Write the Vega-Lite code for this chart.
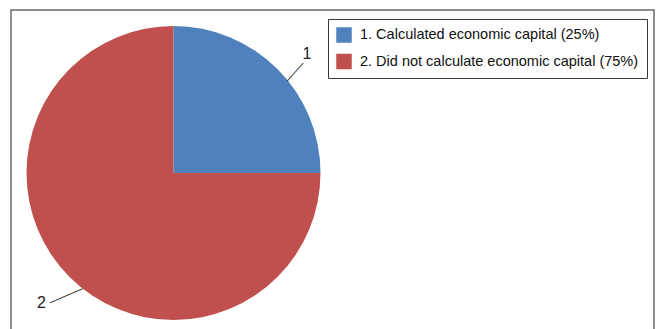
{
  "$schema": "https://vega.github.io/schema/vega-lite/v6.json",
  "width": 643,
  "height": 325,
  "autosize": {"type": "none"},
  "padding": {"left": 11, "top": 10, "right": 3, "bottom": 0},
  "background": "white",
  "config": {
    "view": {"stroke": "#6f6f6f", "strokeWidth": 1.5},
    "font": "Liberation Sans"
  },
  "data": {
    "values": [
      {"category": "1. Calculated economic capital (25%)", "label": "1", "value": 25},
      {"category": "2. Did not calculate economic capital (75%)", "label": "2", "value": 75}
    ]
  },
  "layer": [
    {
      "data": {"values": [{"frame": "chart area"}]},
      "mark": {"type": "rect", "fill": "white", "fillOpacity": 0, "stroke": "#6a6a6a", "strokeWidth": 1.5},
      "encoding": {}
    },
    {
      "mark": {"type": "arc", "x": 162.5, "y": 163, "outerRadius": 147},
      "encoding": {
        "theta": {"field": "value", "type": "quantitative", "stack": true},
        "color": {
          "field": "category",
          "type": "nominal",
          "scale": {"range": ["#4F81BD", "#C0504D"]},
          "legend": {
            "title": null,
            "orient": "none",
            "legendX": 317,
            "legendY": 9,
            "symbolType": "square",
            "symbolSize": 240,
            "symbolStrokeWidth": 0,
            "labelFontSize": 14.5,
            "labelFont": "Liberation Sans",
            "labelColor": "#111111",
            "labelOffset": 8,
            "rowPadding": 10.5,
            "padding": 8,
            "strokeColor": "#3a3a3a",
            "fillColor": "white",
            "labelLimit": 0
          }
        }
      }
    },
    {
      "mark": {"type": "text", "x": 162.5, "y": 163, "radius": 179, "thetaOffset": 0.056, "fontSize": 16, "color": "#222222", "align": "center", "baseline": "middle"},
      "encoding": {
        "theta": {"field": "value", "type": "quantitative", "stack": true},
        "text": {"condition": {"test": "datum.label === '1'", "field": "label"}, "value": ""}
      }
    },
    {
      "mark": {"type": "text", "x": 162.5, "y": 163, "radius": 185, "thetaOffset": 0.01, "fontSize": 16, "color": "#222222", "align": "center", "baseline": "middle"},
      "encoding": {
        "theta": {"field": "value", "type": "quantitative", "stack": true},
        "text": {"condition": {"test": "datum.label === '2'", "field": "label"}, "value": ""}
      }
    },
    {
      "mark": {"type": "text", "x": 162.5, "y": 163, "radius": 158, "thetaOffset": 0.087, "angle": 311.4, "fontSize": 12, "font": "Liberation Sans", "color": "#111111", "align": "center", "baseline": "middle"},
      "encoding": {
        "theta": {"field": "value", "type": "quantitative", "stack": true},
        "text": {"condition": {"test": "datum.label === '1'", "value": "——"}, "value": ""}
      }
    },
    {
      "mark": {"type": "text", "x": 162.5, "y": 163, "radius": 162.6, "thetaOffset": -0.063, "angle": 336.4, "fontSize": 12, "font": "Liberation Sans", "color": "#111111", "align": "center", "baseline": "middle"},
      "encoding": {
        "theta": {"field": "value", "type": "quantitative", "stack": true},
        "text": {"condition": {"test": "datum.label === '2'", "value": "———"}, "value": ""}
      }
    }
  ]
}
